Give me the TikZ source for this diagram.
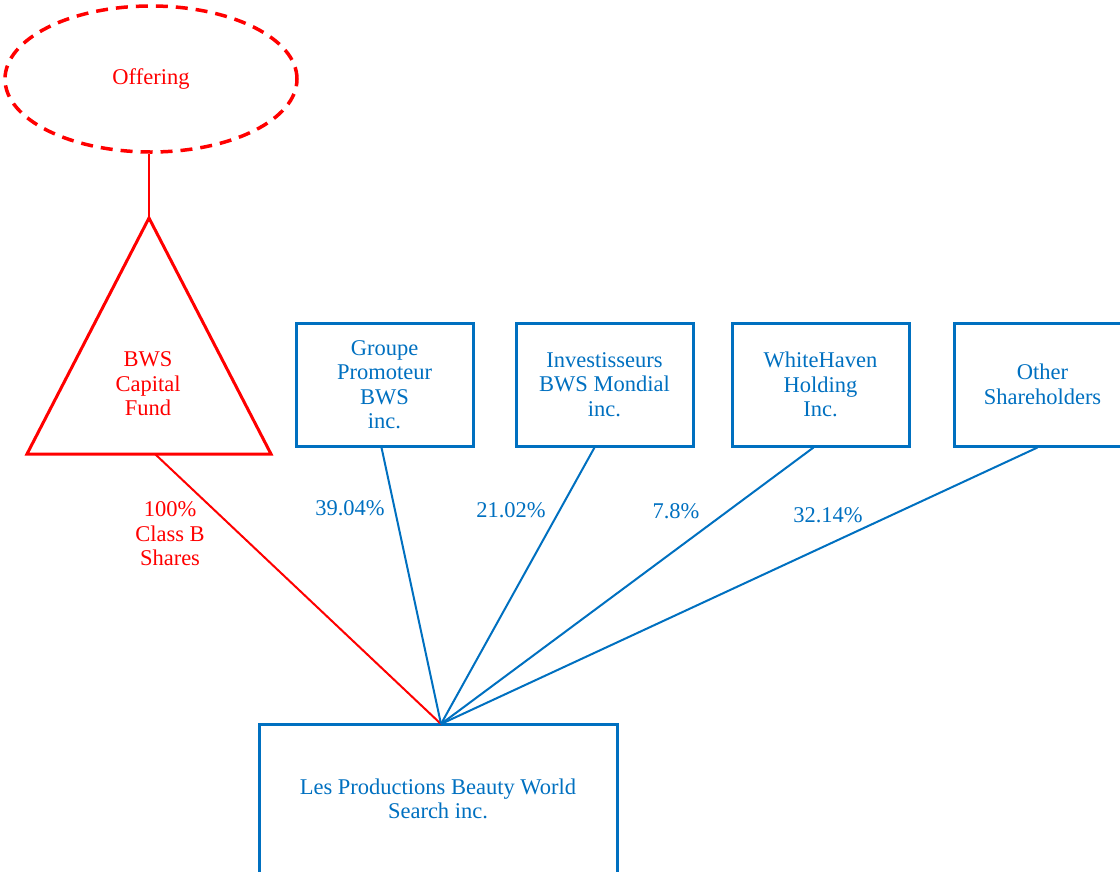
\documentclass[tikz,border=0pt]{standalone}
\usepackage{fontspec}
\setmainfont{Liberation Serif}
\usetikzlibrary{shapes.geometric, positioning}
\definecolor{fundred}{RGB}{255,0,0}
\definecolor{ownblue}{RGB}{0,112,192}
\tikzstyle{offer} = [ellipse, draw=fundred, line width=3.5pt, dash pattern=on 12pt off 8pt, minimum width=292pt, minimum height=146pt, text=fundred]
\tikzstyle{holder} = [rectangle, draw=ownblue, line width=3pt, minimum width=177pt, minimum height=123pt, text=ownblue, align=center, inner sep=0pt]
\tikzstyle{company} = [rectangle, draw=ownblue, line width=3pt, minimum width=358pt, minimum height=150pt, text=ownblue, align=center, inner sep=0pt]
\tikzstyle{fundtri} = [draw=fundred, line width=3pt, line join=miter]
\tikzstyle{redline} = [draw=fundred, line width=2pt]
\tikzstyle{blueline} = [draw=ownblue, line width=2pt]
\tikzstyle{redtext} = [text=fundred, align=center, inner sep=0pt]
\tikzstyle{pct} = [text=ownblue, align=center, inner sep=0pt]

\begin{document}
\begin{tikzpicture}[x=1pt, y=-1pt, every node/.style={font=\fontsize{22.5}{24.5}\selectfont}]

        \useasboundingbox (0,0) rectangle (1120,871);
        \clip (0,0) rectangle (1120,871);

        % Fondo y oferta
        \node (offering) [offer] at (151,79) {Offering};

        \coordinate (apex) at (149,218);
        \coordinate (baseR) at (271,454);
        \coordinate (baseL) at (27,454);
        \coordinate (fundfoot) at (155,454);
        \draw [fundtri] (apex) -- (baseR) -- (baseL) -- cycle;
        \node (fund) [redtext] at (148,384) {BWS\\Capital\\Fund};

        % Accionistas
        \node (groupe) [holder] at (384.5,384.5) {Groupe\\Promoteur\\BWS\\inc.};
        \node (mondial) [holder] at (604.5,384.5) {Investisseurs\\BWS Mondial\\inc.};
        \node (whitehaven) [holder] at (820.5,384.5) {WhiteHaven\\Holding\\Inc.};
        \node (others) [holder] at (1042.5,384.5) {Other\\Shareholders};

        % Societe
        \node (prod) [company] at (438,799) {Les Productions Beauty World\\Search inc.};
        \coordinate (hub) at (441,724);

        % Conexiones
        \draw [redline] (offering.south -| apex) -- (apex);
        \draw [redline] (fundfoot) -- (hub);
        \draw [blueline] ([xshift=-3pt]groupe.south) -- (hub);
        \draw [blueline] ([xshift=-10pt]mondial.south) -- (hub);
        \draw [blueline] ([xshift=-7pt]whitehaven.south) -- (hub);
        \draw [blueline] ([xshift=-5pt]others.south) -- (hub);

        % Porcentajes
        \node (lblfund) [redtext] at (170,534) {100\%\\Class B\\Shares};
        \node (lblgroupe) [pct] at (350,508) {39.04\%};
        \node (lblmondial) [pct] at (511,510) {21.02\%};
        \node (lblwhite) [pct] at (676,511) {7.8\%};
        \node (lblothers) [pct] at (828,515) {32.14\%};

    \end{tikzpicture}
\end{document}
